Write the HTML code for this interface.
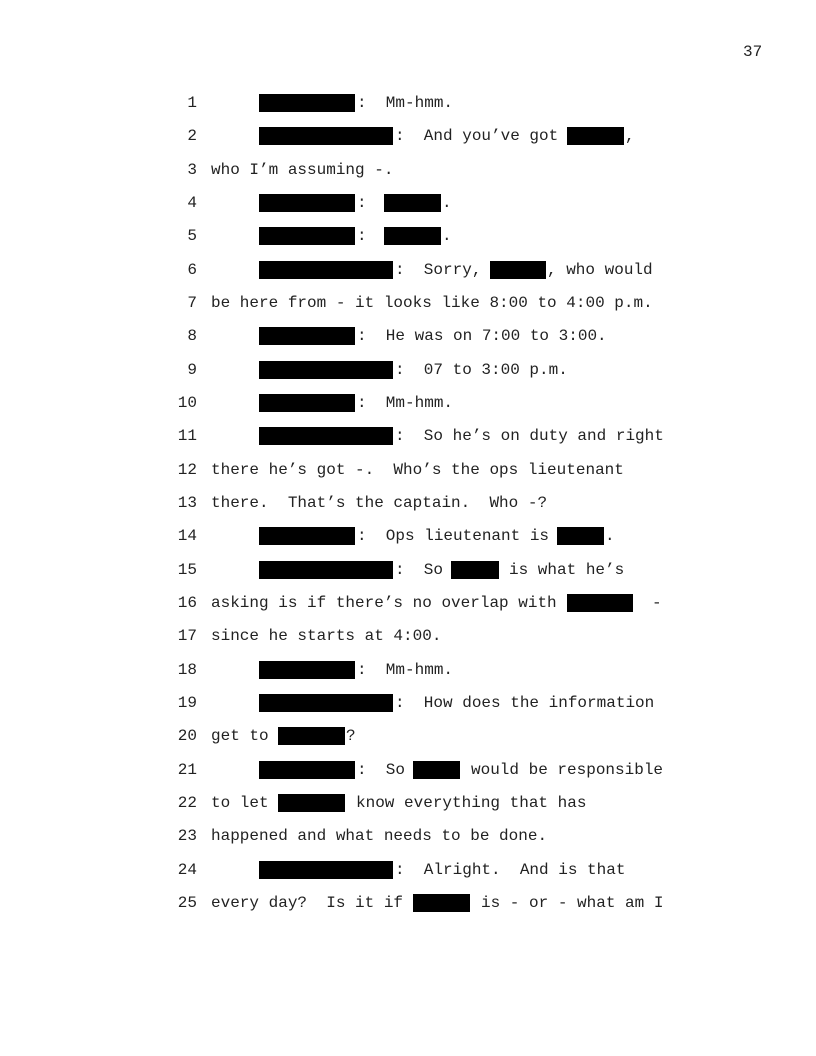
<!DOCTYPE html>
<html><head><meta charset="utf-8"><style>
body{margin:0;background:#fff;}
#p{position:relative;width:816px;height:1056px;overflow:hidden;font-family:"Liberation Mono",monospace;font-size:16px;color:#222;}
.t{position:absolute;white-space:pre;line-height:18px;}
.b{position:absolute;background:#000;height:18px;}
.n{position:absolute;width:40px;text-align:right;left:157px;white-space:pre;line-height:18px;}
</style></head><body><div id="p">
<div class="t" style="left:743px;top:43px">37</div>
<script>
const L=[
[[ 'b',259,355],['t',357,':  Mm-hmm.']],
[[ 'b',259,393],['t',395,':  And you’ve got'],['b',567,624],['t',625,',']],
[['t',211,'who I’m assuming -.']],
[[ 'b',259,355],['t',357,':'],['b',384,441],['t',442,'.']],
[[ 'b',259,355],['t',357,':'],['b',384,441],['t',442,'.']],
[[ 'b',259,393],['t',395,':  Sorry,'],['b',490,546],['t',547,', who would']],
[['t',211,'be here from - it looks like 8:00 to 4:00 p.m.']],
[[ 'b',259,355],['t',357,':  He was on 7:00 to 3:00.']],
[[ 'b',259,393],['t',395,':  07 to 3:00 p.m.']],
[[ 'b',259,355],['t',357,':  Mm-hmm.']],
[[ 'b',259,393],['t',395,':  So he’s on duty and right']],
[['t',211,'there he’s got -.  Who’s the ops lieutenant']],
[['t',211,'there.  That’s the captain.  Who -?']],
[[ 'b',259,355],['t',357,':  Ops lieutenant is'],['b',557,604],['t',605,'.']],
[[ 'b',259,393],['t',395,':  So'],['b',451,499],['t',509,'is what he’s']],
[['t',211,'asking is if there’s no overlap with'],['b',567,633],['t',652,'-']],
[['t',211,'since he starts at 4:00.']],
[[ 'b',259,355],['t',357,':  Mm-hmm.']],
[[ 'b',259,393],['t',395,':  How does the information']],
[['t',211,'get to'],['b',278,345],['t',346,'?']],
[[ 'b',259,355],['t',357,':  So'],['b',413,460],['t',471,'would be responsible']],
[['t',211,'to let'],['b',278,345],['t',356,'know everything that has']],
[['t',211,'happened and what needs to be done.']],
[[ 'b',259,393],['t',395,':  Alright.  And is that']],
[['t',211,'every day?  Is it if'],['b',413,470],['t',481,'is - or - what am I']]
];
let h='';
L.forEach((row,i)=>{const y=Math.round(103+i*33.33)-9;
h+=`<div class="n" style="top:${y}px">${i+1}</div>`;
row.forEach(e=>{if(e[0]=='b')h+=`<div class="b" style="left:${e[1]}px;width:${e[2]-e[1]}px;top:${y}px"></div>`;
else h+=`<div class="t" style="left:${e[1]}px;top:${y}px">${e[2]}</div>`;});});
document.getElementById('p').insertAdjacentHTML('beforeend',h);
</script>
</div></body></html>
